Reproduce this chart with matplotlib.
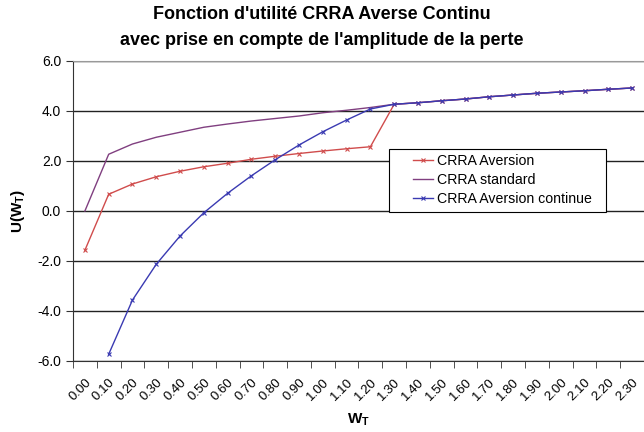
import numpy as np
import matplotlib
matplotlib.use('Agg')
from matplotlib import pyplot as plt
from matplotlib.patches import Rectangle

plt.rcParams['font.family'] = ['Liberation Sans', 'DejaVu Sans']
plt.rcParams['mathtext.fontset'] = 'custom'
plt.rcParams['mathtext.rm'] = 'Liberation Sans:bold'

# category labels of the x axis (W_T)
w_labels = ['%.2f' % (i / 10) for i in range(24)]

# values, one per category
crra_aversion = [-1.57, 0.67, 1.08, 1.37, 1.59, 1.77, 1.91, 2.07, 2.19, 2.30,
                 2.40, 2.49, 2.57, 4.27, 4.33, 4.41, 4.48, 4.57, 4.64, 4.71,
                 4.76, 4.81, 4.87, 4.92]
crra_standard = [0.0, 2.27, 2.68, 2.95, 3.15, 3.35, 3.48, 3.60, 3.70, 3.80,
                 3.93, 4.03, 4.14, 4.27, 4.33, 4.41, 4.48, 4.57, 4.64, 4.71,
                 4.76, 4.81, 4.87, 4.92]
crra_continue = [None, -5.73, -3.56, -2.13, -1.00, -0.07, 0.71, 1.41, 2.05,
                 2.64, 3.17, 3.64, 4.08, 4.27, 4.33, 4.41, 4.48, 4.57, 4.64,
                 4.71, 4.76, 4.81, 4.87, 4.92]

x = np.arange(len(w_labels))
cont = np.array([np.nan if v is None else v for v in crra_continue])

fig = plt.figure(figsize=(6.44, 4.32), dpi=100)
ax = fig.add_axes([73 / 644, 71 / 432, 1 - 73 / 644, 300 / 432])

ax.plot(x, crra_aversion, color='#d04c4c', lw=1, marker='x', ms=3, mew=0.8,
        label='CRRA Aversion')
ax.plot(x, crra_standard, color='#803f80', lw=1, label='CRRA standard')
ax.plot(x, cont, color='#3a3ab2', lw=1, marker='x', ms=3, mew=0.8,
        label='CRRA Aversion continue')

ax.set_ylim(-6, 6)
ax.set_yticks(np.arange(-6, 6.1, 2))
ax.set_yticklabels(['%.1f' % v for v in np.arange(-6, 6.1, 2)], fontsize=10)
ax.yaxis.grid(True, color='#222222', lw=1)
ax.set_axisbelow(True)

# category axis: ticks between categories, labels at centres
ax.set_xlim(-0.5, (644 - 73) / 24.2 - 0.5)
ax.set_xticks(x)
ax.set_xticklabels(w_labels, rotation=45, ha='right', va='top',
                   rotation_mode='anchor', fontsize=9.5)
ax.set_xticks(np.arange(len(w_labels) + 1) - 0.5, minor=True)
ax.tick_params(axis='x', which='major', length=0, pad=11)
ax.tick_params(axis='x', which='minor', length=5, color='#333333')
ax.tick_params(axis='y', length=5, color='#333333')

for s in ['left', 'bottom']:
    ax.spines[s].set_color('#333333')
ax.spines['top'].set_color('#999999')
ax.spines['right'].set_visible(False)

ax.set_ylabel('U(W$_\\mathregular{T}$)', fontsize=11, fontweight='bold',
              labelpad=7)
ax.set_xlabel('W$_\\mathregular{T}$', fontsize=11, fontweight='bold',
              labelpad=6)
fig.suptitle("Fonction d'utilité CRRA Averse Continu\n"
             "avec prise en compte de l'amplitude de la perte",
             fontsize=13, fontweight='bold', y=0.985, linespacing=1.65)

# legend box drawn separately so the handles can sit indented
box = Rectangle((389 / 644, 1 - 212 / 432), 217 / 644, 63 / 432,
                transform=fig.transFigure, facecolor='white',
                edgecolor='black', lw=0.8, zorder=4, clip_on=False)
ax.add_patch(box)
leg = ax.legend(loc='upper left',
                bbox_to_anchor=((410 - 73) / 571, 1 - 90 / 300),
                fontsize=10.2, frameon=False, handlelength=1.45,
                borderpad=0.2, labelspacing=0.36, handletextpad=0.25,
                borderaxespad=0)
leg.set_zorder(5)

fig.savefig('out.png', dpi=100)
